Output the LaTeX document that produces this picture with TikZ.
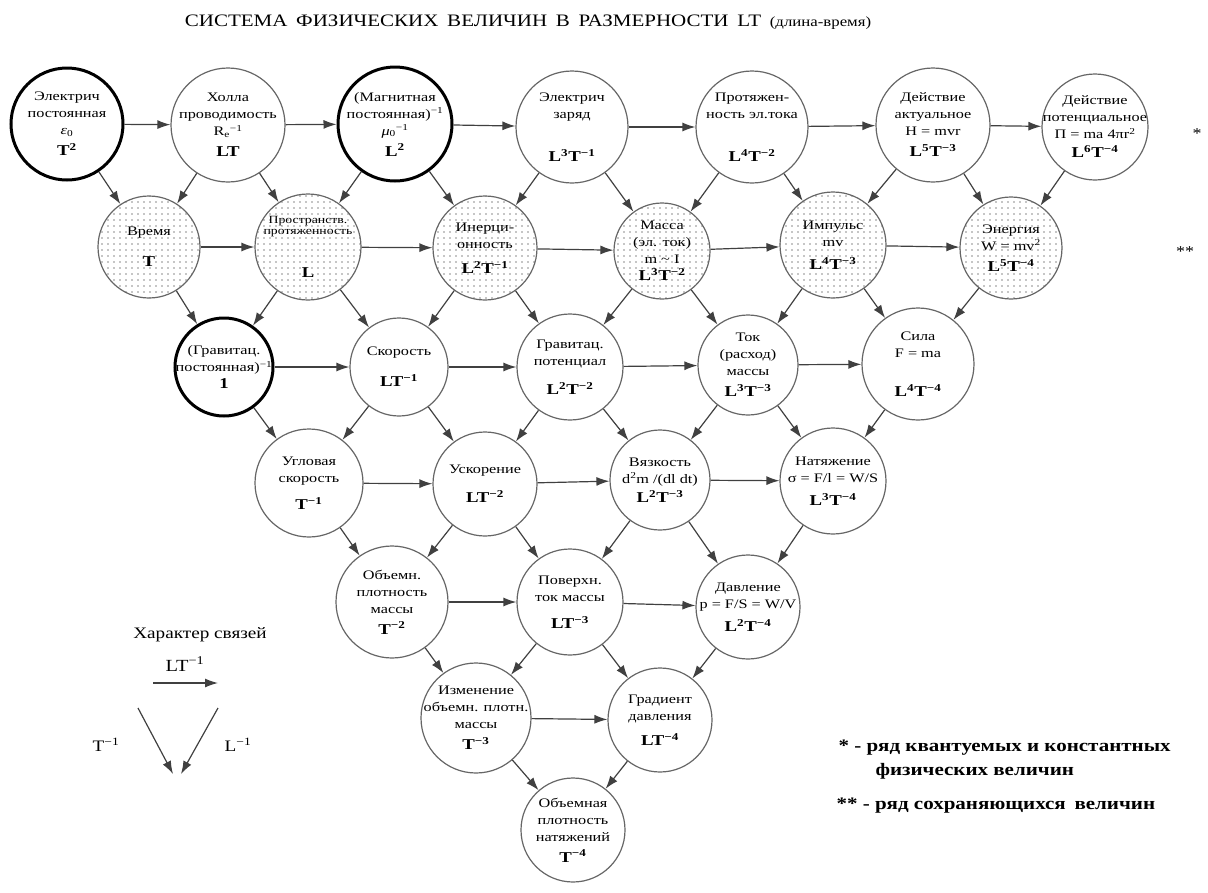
\documentclass[tikz,border=0pt]{standalone}
\usepackage{fontspec}
\setmainfont[FakeStretch=1.2]{Liberation Serif}
\newfontfamily\crcfont[FakeStretch=1.25]{Liberation Serif}
\usepackage{tikz}
\usetikzlibrary{arrows.meta, patterns.meta}
\newcommand{\dm}[1]{{\fontsize{15}{18}\selectfont\bfseries #1}}

\begin{document}
\begin{tikzpicture}[x=1pt, y=-1pt,
    crc/.style={circle, draw=black!60, line width=1.2pt, inner sep=0pt, minimum size=#1*2pt},
    thickc/.style={crc=#1, draw=black, line width=3pt},
    dotc/.style={crc=#1, pattern={Dots[distance=6pt, radius=0.8pt]}, pattern color=black!45},
    txt/.style={align=center, inner sep=0pt, font=\crcfont\fontsize{13}{17}\selectfont},
    arr/.style={-{Latex[length=13pt, width=9pt]}, line width=1.2pt, draw=black!75}]
    \useasboundingbox (0,0) rectangle (1208,892);
    % Title
    \node (title) at (528,22) {\fontsize{17.5}{21}\selectfont СИСТЕМА\enspace ФИЗИЧЕСКИХ\enspace ВЕЛИЧИН\enspace В\enspace РАЗМЕРНОСТИ\enspace LT\enspace {\fontsize{14}{18}\selectfont(длина-время)}};
    % Row 1
    \path (67,124) node (a1) [thickc=56] {} node [txt] {Электрич\\постоянная\\\textit{ε}\textsubscript{0}\\[4pt]\dm{T\textsuperscript{2}}};
    \path (228,125) node (a2) [crc=57] {} node [txt] {Холла\\проводимость\\R\textsubscript{e}\textsuperscript{−1}\\[4pt]\dm{LT}};
    \path (395,124) node (a3) [thickc=57] {} node [txt] {(Магнитная\\постоянная)\textsuperscript{−1}\\\textit{μ}\textsubscript{0}\textsuperscript{−1}\\[4pt]\dm{L\textsuperscript{2}}};
    \path (572,127) node (a4) [crc=56] {} node [txt] {Электрич\\заряд\\[26pt]\dm{L\textsuperscript{3}T\textsuperscript{−1}}};
    \path (752,127) node (a5) [crc=56] {} node [txt] {Протяжен-\\ность эл.тока\\[26pt]\dm{L\textsuperscript{4}T\textsuperscript{−2}}};
    \path (933,125) node (a6) [crc=57] {} node [txt] {Действие\\актуальное\\H = mvr\\[4pt]\dm{L\textsuperscript{5}T\textsuperscript{−3}}};
    \path (1095,127) node (a7) [crc=53] {} node [txt] {Действие\\потенциальное\\П = ma 4πr\textsuperscript{2}\\[2pt]\dm{L\textsuperscript{6}T\textsuperscript{−4}}};
    \node (star1) at (1197,134) {\fontsize{15}{18}\selectfont *};
    % Row 2
    \path (149,247) node (b1) [dotc=51] {} node [txt] {Время\\[14pt]\dm{T}};
    \path (308,247) node (b2) [dotc=53] {} node [txt, font=\crcfont\fontsize{11}{11}\selectfont] {Пространств.\\протяженность\\[30pt]\dm{L}};
    \path (485,248) node (b3) [dotc=52] {} node [txt] {Инерци-\\онность\\[8pt]\dm{L\textsuperscript{2}T\textsuperscript{−1}}};
    \path (662,251) node (b4) [dotc=48] {} node [txt] {Масса\\(эл. ток)\\m \textasciitilde{} I\\\dm{L\textsuperscript{3}T\textsuperscript{−2}}};
    \path (833,245) node (b5) [dotc=53] {} node [txt] {Импульс\\mv\\[6pt]\dm{L\textsuperscript{4}T\textsuperscript{−3}}};
    \path (1011,248) node (b6) [dotc=51] {} node [txt] {Энергия\\W = mv\textsuperscript{2}\\[4pt]\dm{L\textsuperscript{5}T\textsuperscript{−4}}};
    \node (star2) at (1185,252) {\fontsize{15}{18}\selectfont **};
    % Row 3
    \path (224,367) node (c1) [thickc=49] {} node [txt] {(Гравитац.\\постоянная)\textsuperscript{−1}\\\dm{1}};
    \path (399,367) node (c2) [crc=49] {} node [txt] {Скорость\\[14pt]\dm{LT\textsuperscript{−1}}};
    \path (570,367) node (c3) [crc=53] {} node [txt] {Гравитац.\\потенциал\\[12pt]\dm{L\textsuperscript{2}T\textsuperscript{−2}}};
    \path (748,365) node (c4) [crc=50] {} node [txt] {Ток\\(расход)\\массы\\[4pt]\dm{L\textsuperscript{3}T\textsuperscript{−3}}};
    \path (918,364) node (c5) [crc=56] {} node [txt] {Сила\\F = ma\\[22pt]\dm{L\textsuperscript{4}T\textsuperscript{−4}}};
    % Row 4
    \path (309,483) node (d1) [crc=54] {} node [txt] {Угловая\\скорость\\[10pt]\dm{T\textsuperscript{−1}}};
    \path (485,484) node (d2) [crc=52] {} node [txt] {Ускорение\\[12pt]\dm{LT\textsuperscript{−2}}};
    \path (660,480) node (d3) [crc=50] {} node [txt] {Вязкость\\d\textsuperscript{2}m /(dl dt)\\[2pt]\dm{L\textsuperscript{2}T\textsuperscript{−3}}};
    \path (833,481) node (d4) [crc=53] {} node [txt] {Натяжение\\σ = F/l = W/S\\[6pt]\dm{L\textsuperscript{3}T\textsuperscript{−4}}};
    % Row 5
    \path (392,602) node (e1) [crc=56] {} node [txt] {Объемн.\\плотность\\массы\\[4pt]\dm{T\textsuperscript{−2}}};
    \path (570,602) node (e2) [crc=53] {} node [txt] {Поверхн.\\ток массы\\[10pt]\dm{LT\textsuperscript{−3}}};
    \path (748,607) node (e3) [crc=52] {} node [txt] {Давление\\p = F/S = W/V\\[6pt]\dm{L\textsuperscript{2}T\textsuperscript{−4}}};
    % Row 6 and 7
    \path (476,718) node (f1) [crc=55] {} node [txt] {Изменение\\объемн. плотн.\\массы\\[4pt]\dm{T\textsuperscript{−3}}};
    \path (660,720) node (f2) [crc=52] {} node [txt] {Градиент\\давления\\[8pt]\dm{LT\textsuperscript{−4}}};
    \path (573,830) node (g1) [crc=52] {} node [txt] {Объемная\\плотность\\натяжений\\[4pt]\dm{T\textsuperscript{−4}}};
    % Horizontal links
    \draw [arr] (a1) -- (a2); \draw [arr] (a2) -- (a3); \draw [arr] (a3) -- (a4);
    \draw [arr] (a4) -- (a5); \draw [arr] (a5) -- (a6); \draw [arr] (a6) -- (a7);
    \draw [arr] (b1) -- (b2); \draw [arr] (b2) -- (b3); \draw [arr] (b3) -- (b4);
    \draw [arr] (b4) -- (b5); \draw [arr] (b5) -- (b6);
    \draw [arr] (c1) -- (c2); \draw [arr] (c2) -- (c3); \draw [arr] (c3) -- (c4); \draw [arr] (c4) -- (c5);
    \draw [arr] (d1) -- (d2); \draw [arr] (d2) -- (d3); \draw [arr] (d3) -- (d4);
    \draw [arr] (e1) -- (e2); \draw [arr] (e2) -- (e3);
    \draw [arr] (f1) -- (f2);
    % Diagonal links
    \draw [arr] (a1) -- (b1); \draw [arr] (a2) -- (b1); \draw [arr] (a2) -- (b2); \draw [arr] (a3) -- (b2);
    \draw [arr] (a3) -- (b3); \draw [arr] (a4) -- (b3); \draw [arr] (a4) -- (b4); \draw [arr] (a5) -- (b4);
    \draw [arr] (a5) -- (b5); \draw [arr] (a6) -- (b5); \draw [arr] (a6) -- (b6); \draw [arr] (a7) -- (b6);
    \draw [arr] (b1) -- (c1); \draw [arr] (b2) -- (c1); \draw [arr] (b2) -- (c2); \draw [arr] (b3) -- (c2);
    \draw [arr] (b3) -- (c3); \draw [arr] (b4) -- (c3); \draw [arr] (b4) -- (c4); \draw [arr] (b5) -- (c4);
    \draw [arr] (b5) -- (c5); \draw [arr] (b6) -- (c5);
    \draw [arr] (c1) -- (d1); \draw [arr] (c2) -- (d1); \draw [arr] (c2) -- (d2); \draw [arr] (c3) -- (d2);
    \draw [arr] (c3) -- (d3); \draw [arr] (c4) -- (d3); \draw [arr] (c4) -- (d4); \draw [arr] (c5) -- (d4);
    \draw [arr] (d1) -- (e1); \draw [arr] (d2) -- (e1); \draw [arr] (d2) -- (e2); \draw [arr] (d3) -- (e2);
    \draw [arr] (d3) -- (e3); \draw [arr] (d4) -- (e3);
    \draw [arr] (e1) -- (f1); \draw [arr] (e2) -- (f1); \draw [arr] (e2) -- (f2); \draw [arr] (e3) -- (f2);
    \draw [arr] (f1) -- (g1); \draw [arr] (f2) -- (g1);
    % Legend
    \node (leg) at (200,635) {\fontsize{16}{19}\selectfont Характер связей};
    \node (lt) at (185,664) {\fontsize{17}{20}\selectfont LT\textsuperscript{−1}};
    \node (tm) at (106,745) {\fontsize{16}{19}\selectfont T\textsuperscript{−1}};
    \node (lm) at (238,745) {\fontsize{16}{19}\selectfont L\textsuperscript{−1}};
    \coordinate (h1) at (153,683); \coordinate (h2) at (218,683);
    \coordinate (p1) at (138,708); \coordinate (p2) at (173,774);
    \coordinate (q1) at (218,708); \coordinate (q2) at (181,774);
    \draw [arr] (h1) -- (h2); \draw [arr] (p1) -- (p2); \draw [arr] (q1) -- (q2);
    % Notes
    \node (n1) at (835,748) [anchor=west] {\fontsize{17.5}{20}\selectfont\bfseries * - ряд квантуемых и константных};
    \node (n2) at (872,771) [anchor=west] {\fontsize{17.5}{20}\selectfont\bfseries физических величин};
    \node (n3) at (833,806) [anchor=west] {\fontsize{17.5}{20}\selectfont\bfseries ** - ряд сохраняющихся\enspace величин};
\end{tikzpicture}
\end{document}
